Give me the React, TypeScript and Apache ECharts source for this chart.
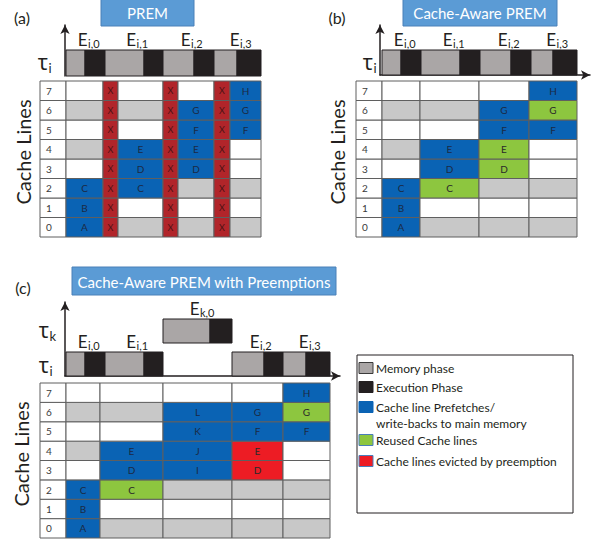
import { useEffect, useRef } from 'react';
import * as echarts from 'echarts';

const FONT = 'Lato, "Open Sans", sans-serif';
const GREEK = '"Noto Sans", "DejaVu Sans", sans-serif';
const INK = '#231f20';
const MEM = '#aaa6a6';
const EXEC = '#231f20';
const GRAY = '#c8c8c8';
const BLUE = '#0a63b4';
const GREEN = '#8dc63f';
const RED = '#ed1c24';
const DARKRED = '#b1252a';
const CELL_LINE = '#5f5f5f';

const cacheLineLabels = ['0', '1', '2', '3', '4', '5', '6', '7'];

// ---------- (a) PREM ----------
const aStarts = [0, 39, 97, 148];
const aMem = [19, 39, 31, 23];
const aExec = [20, 19, 20, 24];
const aNames = ['i,0', 'i,1', 'i,2', 'i,3'];
const aLanes = [0, 0, 0, 0];
const aColEdges = [0, 37, 52, 97, 112, 148, 164, 195];
const X8 = ['x', 'x', 'x', 'x', 'x', 'x', 'x', 'x'];
const aCols = [
  ['b:A', 'b:B', 'b:C', 'w', 'g', 'w', 'g', 'w'],
  X8,
  ['g', 'w', 'b:C', 'b:D', 'b:E', 'w', 'g', 'w'],
  X8,
  ['g', 'w', 'g', 'b:D', 'b:E', 'b:F', 'b:G', 'w'],
  X8,
  ['g', 'w', 'g', 'w', 'w', 'b:F', 'b:G', 'b:H'],
];

// ---------- (b) Cache-Aware PREM ----------
const bStarts = [0, 39, 98, 149];
const bMem = [19, 39, 31, 22];
const bExec = [20, 20, 20, 24];
const bNames = ['i,0', 'i,1', 'i,2', 'i,3'];
const bLanes = [0, 0, 0, 0];
const bColEdges = [0, 38, 97, 147, 195];
const bCols = [
  ['b:A', 'b:B', 'b:C', 'w', 'g', 'w', 'g', 'w'],
  ['g', 'w', 'n:C', 'b:D', 'b:E', 'w', 'g', 'w'],
  ['g', 'w', 'g', 'n:D', 'n:E', 'b:F', 'b:G', 'w'],
  ['g', 'w', 'g', 'w', 'w', 'b:F', 'n:G', 'b:H'],
];

// ---------- (c) Cache-Aware PREM with Preemptions ----------
const cStarts = [0, 39, 97, 166, 217];
const cMem = [19, 39, 47, 32, 23];
const cExec = [20, 19, 22, 19, 24];
const cNames = ['i,0', 'i,1', 'k,0', 'i,2', 'i,3'];
const cLanes = [0, 0, 1, 0, 0];
const cColEdges = [0, 34, 97, 166, 217, 264];
const cCols = [
  ['b:A', 'b:B', 'b:C', 'w', 'g', 'w', 'g', 'w'],
  ['g', 'w', 'n:C', 'b:D', 'b:E', 'w', 'g', 'w'],
  ['g', 'w', 'g', 'b:I', 'b:J', 'b:K', 'b:L', 'w'],
  ['g', 'w', 'g', 'r:D', 'r:E', 'b:F', 'b:G', 'w'],
  ['g', 'w', 'g', 'w', 'w', 'b:F', 'n:G', 'b:H'],
];

const legendLabels = [
  'Memory phase',
  'Execution Phase',
  'Cache line Prefetches/\nwrite-backs to main memory',
  'Reused Cache lines',
  'Cache lines evicted by preemption',
];

function txt(x: number, y: number, text: string, font: string, fill: string, align: string, extra: any = {}) {
  return {
    type: 'text',
    x,
    y,
    silent: true,
    ...extra,
    style: { text, font, fill, align, textAlign: align, verticalAlign: 'middle', textVerticalAlign: 'middle', ...(extra.style || {}) },
  };
}

function timelineSeries(idx: number, starts: number[], mems: number[], execs: number[], names: string[], lanes: number[], barH: number, laneGap: number) {
  return {
    type: 'custom',
    xAxisIndex: idx,
    yAxisIndex: idx,
    silent: true,
    data: starts.map((s, i) => [s, mems[i], execs[i], lanes[i]]),
    encode: { x: 0, y: 3 },
    renderItem: (params: any, api: any) => {
      const s = api.value(0);
      const m = api.value(1);
      const e = api.value(2);
      const lane = api.value(3);
      const y0 = lane * laneGap;
      const pBL = api.coord([s, y0]);
      const pMid = api.coord([s + m, y0 + barH]);
      const pEnd = api.coord([s + m + e, y0 + barH]);
      const top = pMid[1];
      const bottom = pBL[1];
      const cx = (pBL[0] + pEnd[0]) / 2;
      const name = names[params.dataIndex];
      return {
        type: 'group',
        children: [
          { type: 'rect', shape: { x: pBL[0], y: top, width: pMid[0] - pBL[0], height: bottom - top }, style: { fill: MEM, stroke: EXEC, lineWidth: 1 } },
          { type: 'rect', shape: { x: pMid[0], y: top, width: pEnd[0] - pMid[0], height: bottom - top }, style: { fill: EXEC, stroke: EXEC, lineWidth: 1 } },
          txt(cx + 2, top - 11, 'E', `17px ${FONT}`, INK, 'right'),
          txt(cx + 2.5, top - 7, name, `11px ${FONT}`, INK, 'left'),
        ],
      };
    },
  };
}

function tableSeries(idx: number, edges: number[], cols: string[][]) {
  const items: number[][] = [];
  const codes: string[] = [];
  cacheLineLabels.forEach((lab, r) => {
    items.push([-26, 0, r]);
    codes.push('l:' + lab);
  });
  cols.forEach((col, c) =>
    col.forEach((code, r) => {
      items.push([edges[c], edges[c + 1], r]);
      codes.push(code);
    })
  );
  const fills: Record<string, string> = { w: '#ffffff', l: '#ffffff', g: GRAY, b: BLUE, n: GREEN, r: RED, x: DARKRED };
  return {
    type: 'custom',
    xAxisIndex: idx,
    yAxisIndex: idx,
    silent: true,
    data: items,
    encode: { x: [0, 1], y: 2 },
    renderItem: (params: any, api: any) => {
      const x0 = api.value(0);
      const x1 = api.value(1);
      const r = api.value(2);
      const p0 = api.coord([x0, r + 1]);
      const p1 = api.coord([x1, r]);
      const [kind, letter] = codes[params.dataIndex].split(':');
      const children: any[] = [
        { type: 'rect', shape: { x: p0[0], y: p0[1], width: p1[0] - p0[0], height: p1[1] - p0[1] }, style: { fill: fills[kind], stroke: CELL_LINE, lineWidth: 1 } },
      ];
      const cy = (p0[1] + p1[1]) / 2;
      if (kind === 'l') {
        children.push(txt(p0[0] + 6, cy, letter, `10px ${FONT}`, '#3a3a3a', 'left'));
      } else if (kind === 'x') {
        children.push(txt((p0[0] + p1[0]) / 2, cy, 'X', `9px ${FONT}`, '#4d1214', 'center'));
      } else if (letter) {
        children.push(txt((p0[0] + p1[0]) / 2, cy, letter, `10px ${FONT}`, kind === 'b' ? '#1b2a44' : '#2a2a2a', 'center'));
      }
      return { type: 'group', children };
    },
  };
}

function hiddenAxis(min: number, max: number, gridIndex: number) {
  return { type: 'value', gridIndex, min, max, show: false };
}

function arrowAxis(min: number, max: number, gridIndex: number, showLine: boolean) {
  return {
    type: 'value',
    gridIndex,
    min,
    max,
    axisLine: { show: showLine, onZero: false, symbol: ['none', 'arrow'], symbolSize: [7, 9], lineStyle: { color: INK, width: 1.5 } },
    axisTick: { show: false },
    axisLabel: { show: false },
    splitLine: { show: false },
  };
}

function titleBox(x: number, y: number, w: number, h: number, text: string) {
  return [
    { type: 'rect', silent: true, shape: { x, y, width: w, height: h }, style: { fill: '#5b9bd5', stroke: '#4b80b8', lineWidth: 1 } },
    txt(x + w / 2, y + h / 2 + 0.5, text, `15px ${FONT}`, '#ffffff', 'center'),
  ];
}

function tau(x: number, y: number, sub: string) {
  return [
    txt(x, y, 'τ', `21px ${GREEK}`, INK, 'right'),
    txt(x + 0.5, y + 6, sub, `13px ${FONT}`, INK, 'left'),
  ];
}

function cacheLinesLabel(x: number, y: number) {
  return txt(x, y, 'Cache Lines', `20px ${FONT}`, INK, 'center', { rotation: Math.PI / 2 });
}

function legend() {
  const swatches = [
    { fill: MEM, stroke: '#3a3a3a' },
    { fill: EXEC, stroke: EXEC },
    { fill: BLUE, stroke: BLUE },
    { fill: GREEN, stroke: '#4a7ebb' },
    { fill: RED, stroke: '#4a7ebb' },
  ];
  const ys = [368, 387, 407, 440, 461];
  const textYs = [368, 387, 415, 440, 461];
  const els: any[] = [
    { type: 'rect', silent: true, shape: { x: 357, y: 355, width: 216, height: 158 }, style: { fill: '#ffffff', stroke: INK, lineWidth: 1 } },
  ];
  legendLabels.forEach((lab, i) => {
    els.push({ type: 'rect', silent: true, shape: { x: 359, y: ys[i] - 5.5, width: 14, height: 11 }, style: { fill: swatches[i].fill, stroke: swatches[i].stroke, lineWidth: 1 } });
    els.push(txt(376, textYs[i], lab, `12px ${FONT}`, INK, 'left', { style: { lineHeight: 16 } }));
  });
  return els;
}

export default function App() {
  const ref = useRef<HTMLDivElement>(null);
  useEffect(() => {
    document.body.style.margin = '0';
    if (!ref.current) return;
    const chart = echarts.init(ref.current, null, { renderer: 'svg' });
    const option: any = {
      animation: false,
      backgroundColor: '#ffffff',
      textStyle: { fontFamily: FONT },
      grid: [
        { left: 65, top: 25, width: 196, height: 51 },
        { left: 40, top: 81, width: 221, height: 156 },
        { left: 380, top: 25, width: 210, height: 50 },
        { left: 356, top: 81, width: 221, height: 156 },
        { left: 65, top: 302, width: 275, height: 74 },
        { left: 40, top: 383, width: 290, height: 155 },
      ],
      xAxis: [
        arrowAxis(-1, 195, 0, false),
        hiddenAxis(-26, 195, 1),
        arrowAxis(-2, 208, 2, true),
        hiddenAxis(-26, 195, 3),
        arrowAxis(-1, 274, 4, true),
        hiddenAxis(-26, 264, 5),
      ],
      yAxis: [
        arrowAxis(0, 51, 0, true),
        hiddenAxis(0, 8, 1),
        arrowAxis(0, 50, 2, true),
        hiddenAxis(0, 8, 3),
        arrowAxis(0, 74, 4, true),
        hiddenAxis(0, 8, 5),
      ],
      series: [
        timelineSeries(0, aStarts, aMem, aExec, aNames, aLanes, 26, 33),
        tableSeries(1, aColEdges, aCols),
        timelineSeries(2, bStarts, bMem, bExec, bNames, bLanes, 25, 33),
        tableSeries(3, bColEdges, bCols),
        timelineSeries(4, cStarts, cMem, cExec, cNames, cLanes, 24, 33),
        tableSeries(5, cColEdges, cCols),
      ],
      graphic: [
        txt(22, 17, '(a)', `16px ${FONT}`, INK, 'center'),
        txt(337, 17, '(b)', `16px ${FONT}`, INK, 'center'),
        txt(23, 287, '(c)', `16px ${FONT}`, INK, 'center'),
        ...titleBox(101, -1, 93, 27, 'PREM'),
        ...titleBox(403, -1, 154, 27, 'Cache-Aware PREM'),
        ...titleBox(72, 267, 264, 28, 'Cache-Aware PREM with Preemptions'),
        ...tau(48, 62, 'i'),
        ...tau(373, 62, 'i'),
        ...tau(49, 330, 'k'),
        ...tau(49, 365, 'i'),
        cacheLinesLabel(23, 152),
        cacheLinesLabel(337, 152),
        cacheLinesLabel(21, 454),
        ...legend(),
      ],
    };
    chart.setOption(option);
    return () => chart.dispose();
  }, []);
  return <div ref={ref} style={{ width: 596, height: 544 }} />;
}
